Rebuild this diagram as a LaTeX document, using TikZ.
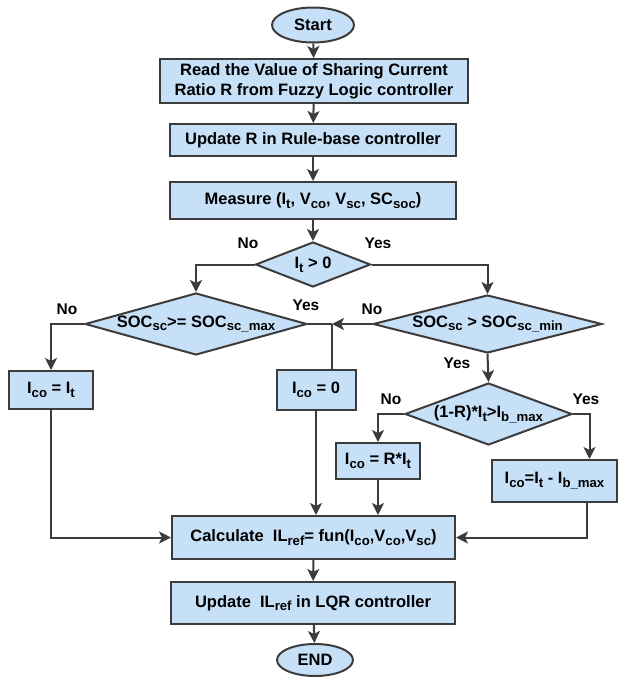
\documentclass[tikz,border=0pt]{standalone}
\usepackage{fontspec}
\setmainfont{Liberation Sans}
\usetikzlibrary{positioning,arrows.meta,shapes.geometric}
\definecolor{boxblue}{RGB}{198,224,248}
\definecolor{lgray}{RGB}{60,60,60}
\newcommand{\sbs}[1]{\raisebox{-3.8pt}{\fontsize{13.2}{14}\selectfont #1}}
\tikzset{
  proc/.style={rectangle,draw=lgray,fill=boxblue,line width=2pt,inner sep=2pt,align=center,font=\fontsize{16.5}{20}\selectfont\bfseries},
  dec/.style={diamond,draw=lgray,fill=boxblue,line width=2pt,inner sep=-12pt,font=\fontsize{16.5}{20}\selectfont\bfseries},
  term/.style={ellipse,draw=lgray,fill=boxblue,line width=2pt,inner sep=0pt,font=\fontsize{16.5}{20}\selectfont\bfseries},
  flow/.style={draw=lgray,line width=2pt,-{Stealth[length=12pt,width=12pt,inset=3pt]}},
  link/.style={draw=lgray,line width=2pt},
  blab/.style={inner sep=0pt,font=\fontsize{15.5}{16}\selectfont\bfseries}
}
\begin{document}
\begin{tikzpicture}[x=1pt,y=-1pt]
  \useasboundingbox (0,0) rectangle (618,678);
  % main column
  \node[term,minimum width=82pt,minimum height=35pt] (start) at (313,25) {Start};
  \node[proc,minimum width=308pt,minimum height=44pt] (read) at (314,81) {Read the Value of Sharing Current\\Ratio R from Fuzzy Logic controller};
  \node[proc,minimum width=286pt,minimum height=32pt] (updr) at (313,140) {Update R in Rule-base controller};
  \node[proc,minimum width=286pt,minimum height=37pt] (meas) at (313,200.5) {Measure (I\sbs{t}, V\sbs{co}, V\sbs{sc}, SC\sbs{soc})};
  \node[dec,aspect=2.56,minimum width=115pt,minimum height=45pt] (dit) at (313,264.5) {I\sbs{t} > 0};
  % decisions
  \node[dec,aspect=3.58,minimum width=222pt,minimum height=62pt] (dmax) at (196,324) {SOC\sbs{sc}>= SOC\sbs{sc\_max}};
  \node[dec,aspect=3.95,minimum width=229pt,minimum height=58pt] (dmin) at (487.5,324) {SOC\sbs{sc} > SOC\sbs{sc\_min}};
  \node[dec,aspect=2.69,minimum width=167pt,minimum height=62pt] (dib) at (488.5,414) {(1-R)*I\sbs{t}>I\sbs{b\_max}};
  % current boxes
  \node[proc,minimum width=84pt,minimum height=38pt] (ico1) at (51,390) {I\sbs{co} = I\sbs{t}};
  \node[proc,minimum width=79pt,minimum height=40pt] (ico2) at (316,390) {I\sbs{co} = 0};
  \node[proc,minimum width=84pt,minimum height=36pt] (ico3) at (378,461) {I\sbs{co} = R*I\sbs{t}};
  \node[proc,minimum width=125pt,minimum height=42pt,inner sep=0pt] (ico4) at (554.5,481) {I\sbs{co}=I\sbs{t} - I\sbs{b\_max}};
  % bottom
  \node[proc,minimum width=283pt,minimum height=43pt] (calc) at (313.5,537.5) {Calculate\ \ IL\sbs{ref}= fun(I\sbs{co},V\sbs{co},V\sbs{sc})};
  \node[proc,minimum width=284pt,minimum height=42pt] (updl) at (313,603) {Update\ \ IL\sbs{ref} in LQR controller};
  \node[term,minimum width=76pt,minimum height=32pt] (stop) at (315,660) {END};
  \coordinate (join) at (332,324);
  % branch labels
  \node[blab] (n1) at (248,243) {No};
  \node[blab] (y1) at (378,243) {Yes};
  \node[blab] (n2) at (67,309) {No};
  \node[blab] (y2) at (306,305) {Yes};
  \node[blab] (n3) at (372,309) {No};
  \node[blab] (y3) at (457,363) {Yes};
  \node[blab] (n4) at (391,399) {No};
  \node[blab] (y4) at (586,399) {Yes};
  % connectors
  \draw[flow] (start) -- (read);
  \draw[flow] (read) -- (updr);
  \draw[flow] (updr) -- (meas);
  \draw[flow] (meas) -- (dit);
  \draw[flow] (dit.west) -| (dmax.north);
  \draw[flow] (dit.east) -| (dmin.north);
  \draw[flow] (dmax.west) -| (ico1.north);
  \draw[link] (dmax.east) -- (join);
  \draw[flow] (dmin.west) -- (join);
  \draw[link] (join) -- (join |- ico2.north);
  \draw[flow] (dmin.south) -- (dib.north);
  \draw[flow] (dib.west) -| (ico3.north);
  \draw[flow] (dib.east) -| ([xshift=35pt]ico4.north);
  \draw[flow] (ico1.south) |- (calc.west);
  \draw[flow] (ico2.south) -- (ico2.south |- calc.north);
  \draw[flow] (ico3.south) -- (ico3.south |- calc.north);
  \draw[flow] ([xshift=32pt]ico4.south) |- (calc.east);
  \draw[flow] (calc) -- (updl);
  \draw[flow] (updl) -- (stop);
\end{tikzpicture}
\end{document}
